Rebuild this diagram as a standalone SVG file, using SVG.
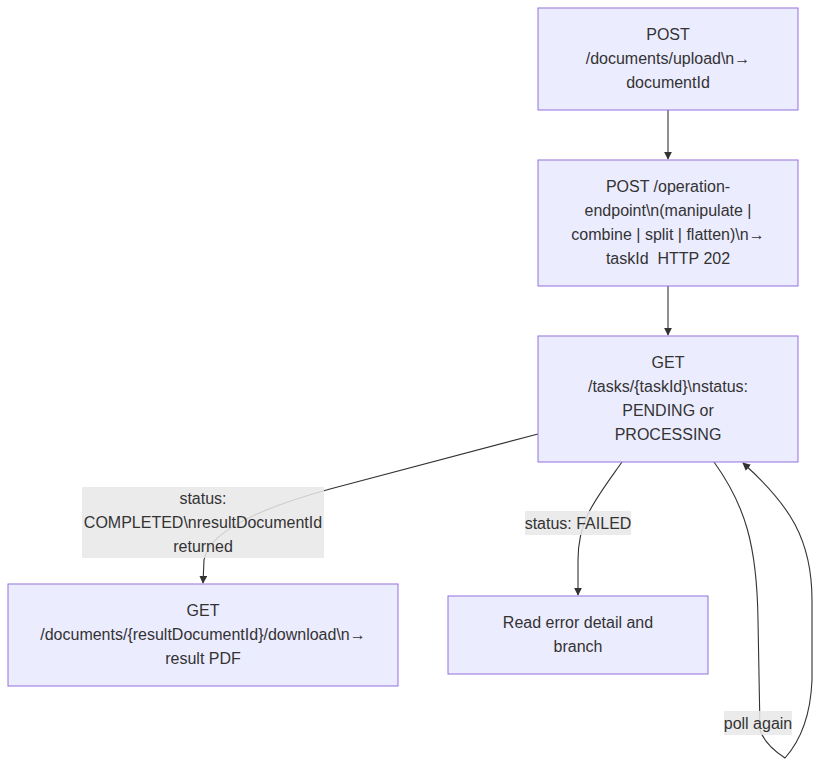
<svg xmlns="http://www.w3.org/2000/svg" width="820" height="768" viewBox="0 0 820 768">
<style>
.node rect{fill:#ECECFF;stroke:#9370DB;stroke-width:1}
text{font-family:"Liberation Sans",Arial,sans-serif;font-size:16px;fill:#333;text-anchor:middle}
.edge{fill:none;stroke:#333;stroke-width:1.1}
.lbl rect{fill:#e8e8e8;fill-opacity:0.85}
</style>
<defs>
<marker id="arr" viewBox="0 0 10 10" refX="9" refY="5" markerWidth="8" markerHeight="8" markerUnits="userSpaceOnUse" orient="auto">
<path d="M0,0 L10,5 L0,10 z" fill="#333"/>
</marker>
</defs>
<rect width="820" height="768" fill="#fff"/>
<g id="connectors">
<path class="edge" d="M668,110 L668,159" marker-end="url(#arr)"/>
<path class="edge" d="M668,286 L668,335" marker-end="url(#arr)"/>
<path class="edge" d="M538,434 L330,489 Q210,522 204,560 L203,583" marker-end="url(#arr)"/>
<path class="edge" d="M622,462 C595,500 578,520 578,560 L578,595" marker-end="url(#arr)"/>
<path class="edge" d="M714,462 C745,505 757,545 758,620 L760,730 Q765,745 785,758 Q810,730 812,680 L812,600 C812,540 790,505 743,463" marker-end="url(#arr)"/>
</g>
<g id="edge-labels">
<g class="lbl"><rect x="82" y="487" width="242" height="71"/>
<text x="203" y="504">status:</text><text x="203" y="528">COMPLETED\nresultDocumentId</text><text x="203" y="552">returned</text></g>
<g class="lbl"><rect x="525" y="511" width="106" height="24"/><text x="578" y="529">status: FAILED</text></g>
<g class="lbl"><rect x="724" y="711" width="68" height="24"/><text x="758" y="729">poll again</text></g>
</g>
<g id="upload" class="node"><rect x="538" y="8" width="260" height="102"/>
<text x="668" y="40">POST</text><text x="668" y="64">/documents/upload\n→</text><text x="668" y="88">documentId</text></g>
<g id="operation" class="node"><rect x="538" y="160" width="260" height="126"/>
<text x="668" y="192">POST /operation-</text><text x="668" y="216">endpoint\n(manipulate |</text><text x="668" y="240">combine | split | flatten)\n→</text><text x="668" y="264">taskId&#160; HTTP 202</text></g>
<g id="poll" class="node"><rect x="538" y="336" width="260" height="126"/>
<text x="668" y="368">GET</text><text x="668" y="392">/tasks/{taskId}\nstatus:</text><text x="668" y="416">PENDING or</text><text x="668" y="440">PROCESSING</text></g>
<g id="download" class="node"><rect x="8" y="584" width="390" height="102"/>
<text x="203" y="616">GET</text><text x="203" y="640">/documents/{resultDocumentId}/download\n→</text><text x="203" y="664">result PDF</text></g>
<g id="error" class="node"><rect x="448" y="596" width="260" height="78"/>
<text x="578" y="628">Read error detail and</text><text x="578" y="652">branch</text></g>
</svg>
